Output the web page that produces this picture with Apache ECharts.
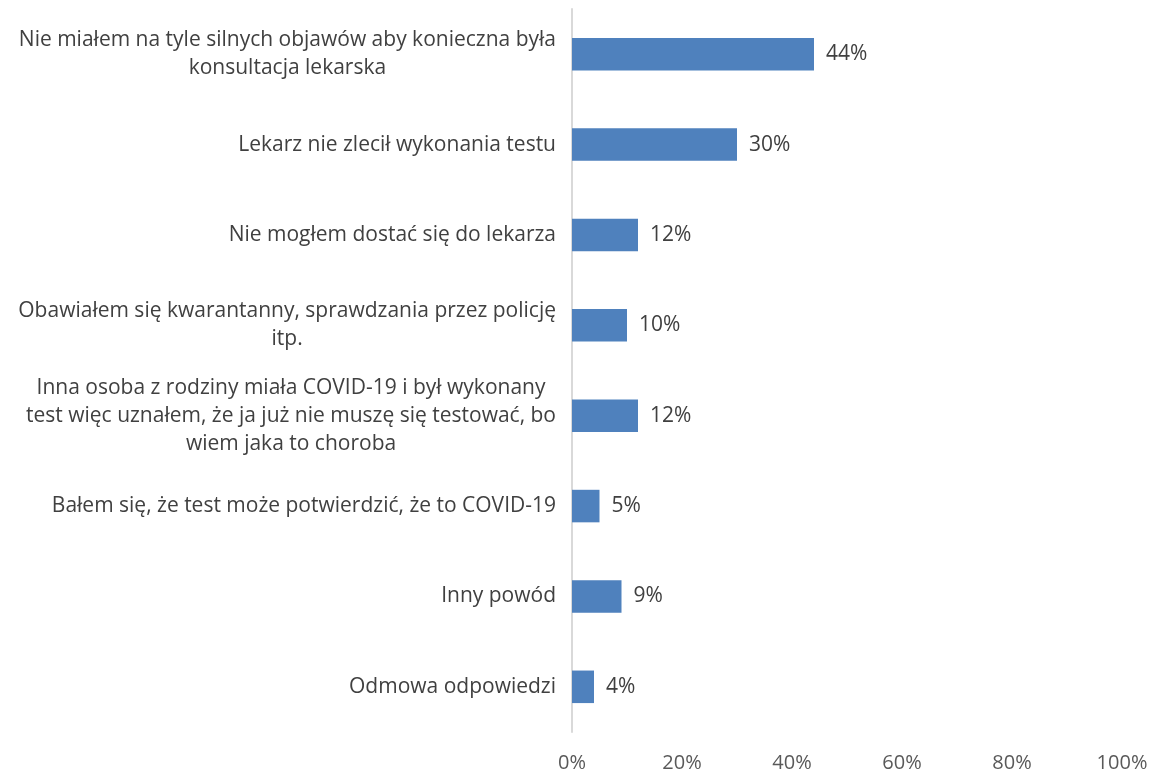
<!DOCTYPE html>
<html>
<head>
<meta charset="utf-8">
<script src="https://cdn.jsdelivr.net/npm/echarts@6/dist/echarts.min.js"></script>
<style>
html,body{margin:0;padding:0;background:#fff;}
#chart{width:1151px;height:773px;}
</style>
</head>
<body>
<div id="chart"></div>
<script>
const categories = [
  "Nie miałem na tyle silnych objawów aby konieczna była\nkonsultacja lekarska",
  "Lekarz nie zlecił wykonania testu",
  "Nie mogłem dostać się do lekarza",
  "Obawiałem się kwarantanny, sprawdzania przez policję\nitp.",
  "Inna osoba z rodziny miała COVID-19 i był wykonany\ntest więc uznałem, że ja już nie muszę się testować, bo\nwiem jaka to choroba",
  "Bałem się, że test może potwierdzić, że to COVID-19",
  "Inny powód",
  "Odmowa odpowiedzi"
];
const values = [44, 30, 12, 10, 12, 5, 9, 4];
const xTicks = [0, 20, 40, 60, 80, 100];

const FONT = "Open Sans";
const chart = echarts.init(document.getElementById('chart'));
chart.setOption({
  animation: false,
  grid: { left: 572, right: 29, top: 9, bottom: 41, containLabel: false, outerBoundsMode: 'none' },
  xAxis: {
    type: 'value', min: xTicks[0], max: xTicks[xTicks.length - 1], interval: 20,
    axisLine: { show: false }, axisTick: { show: false },
    splitLine: { show: false },
    axisLabel: { formatter: '{value}%', color: '#595959', fontFamily: FONT, fontSize: 20, margin: 21 }
  },
  yAxis: {
    type: 'category', data: categories, inverse: true,
    axisLine: { show: true, lineStyle: { color: '#d9d9d9', width: 2 } },
    axisTick: { show: false },
    axisLabel: { color: '#404040', fontFamily: FONT, fontSize: 21, margin: 16, align: 'right',
      formatter: v => v.split('\n').map(s => '{c|' + s + '}').join('\n'),
      rich: { c: { align: 'center', lineHeight: 28, fontFamily: FONT, fontSize: 21, color: '#404040' } } }
  },
  series: [{
    type: 'bar', data: values, barCategoryGap: '64%',
    itemStyle: { color: '#4f81bd' },
    label: { show: true, position: 'right', distance: 12, formatter: '{c}%', color: '#404040', fontFamily: FONT, fontSize: 21 }
  }]
});
</script>
</body>
</html>
